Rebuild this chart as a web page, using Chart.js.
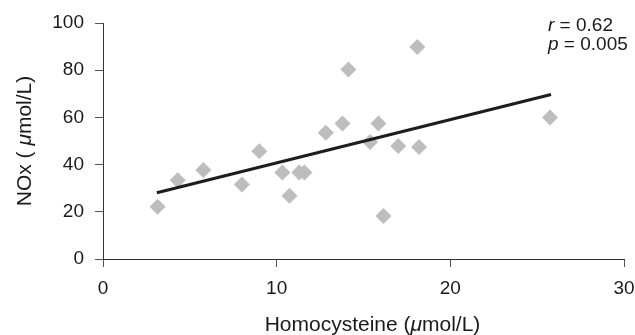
<!DOCTYPE html>
<html><head><meta charset="utf-8">
<script src="https://cdn.jsdelivr.net/npm/chart.js@4/dist/chart.umd.min.js"></script>
<style>html,body{margin:0;padding:0;background:#fff}#wrap{width:635px;height:335px}</style>
</head><body><div id="wrap"><canvas id="c" width="635" height="335"></canvas></div>
<script>
const homocysteine = [3.14, 4.3, 5.78, 8.0, 9.0, 10.33, 10.74, 11.3, 11.6, 12.83, 13.79, 14.13, 15.38, 15.86, 16.15, 17.0, 18.1, 18.2, 25.74];
const nox =          [22.1, 33.4, 37.7, 31.6, 45.7, 36.7, 26.8, 36.7, 36.7, 53.5, 57.4, 80.3, 49.6, 57.4, 18.2, 47.9, 89.8, 47.5, 60.0];
const trendX = [3.1, 25.8];
const trendY = [28.1, 69.7];
const xTicks = [0, 10, 20, 30];
const yTicks = [0, 20, 40, 60, 80, 100];
const statLines = [["r", " = 0.62"], ["p", " = 0.005"]];
// axis titles: [text, italic?] pieces
const xTitle = [["Homocysteine (", false], ["μ", true], ["mol/L)", false]];
const yTitle = [["NOx ( ", false], ["μ", true], ["mol/L)", false]];

const FONT = "'Liberation Sans', Arial, sans-serif";
function drawPieces(ctx, pieces, size, cx, cy) {
  const widths = pieces.map(([t, it]) => { ctx.font = (it ? "italic " : "") + size + "px " + FONT; return ctx.measureText(t).width; });
  const total = widths.reduce((a, b) => a + b, 0);
  let x = cx - total / 2;
  pieces.forEach(([t, it], i) => {
    ctx.font = (it ? "italic " : "") + size + "px " + FONT;
    ctx.fillText(t, x, cy);
    x += widths[i];
  });
}
const annot = {
  id: 'annot',
  afterDraw(chart) {
    const ctx = chart.ctx, a = chart.chartArea;
    ctx.save();
    ctx.fillStyle = '#1a1a1a';
    ctx.textBaseline = 'middle';
    ctx.textAlign = 'left';
    let y = a.top + 3;
    const x0 = a.right - 76;
    statLines.forEach(([v, rest]) => {
      ctx.font = "italic 19px " + FONT;
      ctx.fillText(v, x0, y);
      const w = ctx.measureText(v).width;
      ctx.font = "19px " + FONT;
      ctx.fillText(rest, x0 + w, y);
      y += 19;
    });
    // x axis title
    drawPieces(ctx, xTitle, 21, (a.left + a.right) / 2 + 9, chart.height - 10);
    // y axis title
    ctx.translate(25, (a.top + a.bottom) / 2);
    ctx.rotate(-Math.PI / 2);
    drawPieces(ctx, yTitle, 21, 0, 0);
    ctx.restore();
  }
};

new Chart(document.getElementById('c'), {
  data: {
    datasets: [
      { type: 'scatter', data: homocysteine.map((x, i) => ({x, y: nox[i]})),
        pointStyle: 'rectRot', pointRadius: 8, pointHoverRadius: 8,
        backgroundColor: '#bdbdbe', borderWidth: 0, order: 2 },
      { type: 'line', data: trendX.map((x, i) => ({x, y: trendY[i]})),
        borderColor: '#1e1c1d', borderWidth: 3.2, pointRadius: 0, fill: false, order: 1 }
    ]
  },
  options: {
    responsive: false, animation: false,
    layout: { padding: { top: 23, right: 11, left: 0, bottom: 0 } },
    plugins: { legend: { display: false }, tooltip: { enabled: false } },
    scales: {
      x: {
        type: 'linear', min: 0, max: 30,
        afterBuildTicks: s => { s.ticks = xTicks.map(v => ({value: v})); },
        afterFit: s => { s.height = 76; s.paddingLeft = 0; s.paddingRight = 0; },
        grid: { drawOnChartArea: false, drawTicks: true, tickLength: 8, color: '#555' },
        border: { display: true, color: '#333', width: 1 },
        ticks: { color: '#1a1a1a', font: { family: FONT, size: 19 }, padding: 10, maxRotation: 0 },
        title: { display: false }
      },
      y: {
        type: 'linear', min: 0, max: 100,
        afterBuildTicks: s => { s.ticks = yTicks.map(v => ({value: v})); },
        afterFit: s => { s.width = 103; s.paddingTop = 0; s.paddingBottom = 0; },
        grid: { drawOnChartArea: false, drawTicks: true, tickLength: 8, color: '#555' },
        border: { display: true, color: '#333', width: 1 },
        ticks: { color: '#1a1a1a', font: { family: FONT, size: 19 }, padding: 11 },
        title: { display: false }
      }
    }
  },
  plugins: [annot]
});
</script></body></html>
